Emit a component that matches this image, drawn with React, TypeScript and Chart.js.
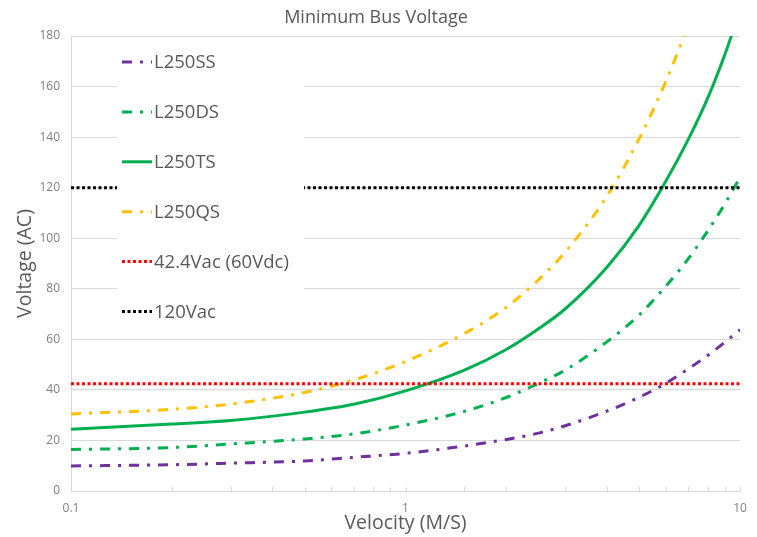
import React, { useEffect, useRef } from 'react';
import { Chart, registerables } from 'chart.js';

Chart.register(...registerables);

// ---- data ----
const velocity = [0.1, 0.2, 0.3, 0.5, 0.7, 1, 1.5, 2, 2.5, 3, 4, 5, 6, 7, 8, 9, 10];
const l250SS = [9.9, 10.4, 11.0, 11.9, 13.3, 14.9, 17.8, 20.4, 22.9, 25.8, 31.6, 37.1, 42.6, 48.3, 53.6, 58.8, 63.8];
const l250DS = [16.4, 17.2, 18.6, 20.6, 22.6, 26.1, 31.5, 37.0, 42.6, 47.8, 59.0, 69.7, 81.0, 91.8, 102.8, 113.5, 124.0];
const l250TS = [24.4, 26.5, 27.9, 31.2, 34.3, 39.6, 47.8, 56.0, 64.2, 72.0, 88.5, 105.2, 122.5, 139.0, 155.3, 172.5, 190.0];
const l250QS = [30.5, 32.3, 34.4, 39.0, 43.9, 51.2, 62.3, 72.7, 83.6, 94.5, 116.6, 139.5, 162.0, 184.0, null, null, null];
const limitVelocity = [0.1, 10];
const limit42 = [42.4, 42.4];
const limit120 = [120, 120];
const seriesNames = ['L250SS', 'L250DS', 'L250TS', 'L250QS', '42.4Vac (60Vdc)', '120Vac'];
const xTickLabels = ['0.1', '1', '10'];
const yMin = 0;
const yMax = 180;
const yStep = 20;

const FONT = "'Open Sans', sans-serif";

function toPoints(xs: number[], ys: (number | null)[]) {
  const out: { x: number; y: number }[] = [];
  xs.forEach((x, i) => {
    const y = ys[i];
    if (y !== null && y !== undefined) out.push({ x, y });
  });
  return out;
}

const insideLegend = {
  id: 'insideLegend',
  afterDatasetsDraw(chart: any) {
    const { ctx, chartArea } = chart;
    ctx.save();
    // minor tick marks on the x axis (pointing into the plot)
    const xs = chart.scales.x;
    ctx.strokeStyle = '#d9d9d9';
    ctx.lineWidth = 1;
    xs.ticks.forEach((t: any) => {
      const px = Math.round(xs.getPixelForValue(t.value)) + 0.5;
      ctx.beginPath();
      ctx.moveTo(px, chartArea.bottom);
      ctx.lineTo(px, chartArea.bottom - 4);
      ctx.stroke();
    });

    // legend box
    const left = chartArea.left + 46;
    const right = chartArea.left + 233;
    const top = chartArea.top + 2;
    const bottom = chartArea.top + 299;
    ctx.fillStyle = '#ffffff';
    ctx.fillRect(left, top, right - left, bottom - top);

    const datasets = chart.data.datasets;
    datasets.forEach((ds: any, i: number) => {
      const y = chartArea.top + 26 + i * 49.9;
      ctx.save();
      ctx.strokeStyle = ds.borderColor;
      ctx.lineWidth = ds.borderWidth;
      ctx.lineCap = 'butt';
      ctx.setLineDash(ds.borderDash || []);
      ctx.beginPath();
      ctx.moveTo(left + 5, y);
      ctx.lineTo(left + 35, y);
      ctx.stroke();
      ctx.restore();
      ctx.fillStyle = '#595959';
      ctx.font = `18.5px ${FONT}`;
      ctx.textAlign = 'left';
      ctx.textBaseline = 'middle';
      ctx.fillText(ds.label, left + 37, y + 1);
    });
    ctx.restore();
  },
};

export default function App() {
  const canvasRef = useRef<HTMLCanvasElement | null>(null);

  useEffect(() => {
    if (!canvasRef.current) return;
    const dashDot = [10, 8, 3, 8];
    const dotted = [3, 2.5];
    const chart = new Chart(canvasRef.current, {
      type: 'line',
      data: {
        datasets: [
          { label: seriesNames[0], data: toPoints(velocity, l250SS), borderColor: '#7030A0', borderWidth: 3, borderDash: dashDot, order: 6 },
          { label: seriesNames[1], data: toPoints(velocity, l250DS), borderColor: '#00B050', borderWidth: 3, borderDash: dashDot, order: 5 },
          { label: seriesNames[2], data: toPoints(velocity, l250TS), borderColor: '#00B050', borderWidth: 3, borderDash: [], order: 4 },
          { label: seriesNames[3], data: toPoints(velocity, l250QS), borderColor: '#FFC000', borderWidth: 3, borderDash: dashDot, order: 3 },
          { label: seriesNames[4], data: toPoints(limitVelocity, limit42), borderColor: '#FF0000', borderWidth: 3, borderDash: dotted, order: 2 },
          { label: seriesNames[5], data: toPoints(limitVelocity, limit120), borderColor: '#000000', borderWidth: 3, borderDash: dotted, order: 1 },
        ].map((d) => ({
          ...d,
          fill: false,
          pointRadius: 0,
          pointHoverRadius: 0,
          borderCapStyle: 'butt',
          cubicInterpolationMode: 'monotone',
        })) as any,
      },
      options: {
        animation: false,
        responsive: false,
        devicePixelRatio: 1,
        layout: { padding: { left: 0, right: 5, top: 0, bottom: 0 } },
        plugins: {
          legend: { display: false },
          tooltip: { enabled: false },
          title: {
            display: true,
            text: 'Minimum Bus Voltage',
            color: '#595959',
            font: { family: FONT, size: 18, weight: 'normal' },
            padding: { top: 7, bottom: 7.4 },
          },
        },
        scales: {
          x: {
            type: 'logarithmic',
            min: 0.1,
            max: 10,
            grid: { display: false, drawTicks: false },
            border: { display: true, color: '#d9d9d9', width: 1 },
            ticks: {
              autoSkip: false,
              maxRotation: 0,
              padding: 10,
              color: '#808080',
              font: { family: FONT, size: 12 },
              callback: (value: any) => {
                const s = String(Number(value));
                return xTickLabels.includes(s) ? s : '';
              },
            },
            title: {
              display: true,
              text: 'Velocity (M/S)',
              color: '#595959',
              font: { family: FONT, size: 19.5 },
              padding: { top: 0, bottom: 1.6 },
            },
            afterFit: (s: any) => {
              s.height = 46;
            },
          },
          y: {
            min: yMin,
            max: yMax,
            ticks: {
              stepSize: yStep,
              padding: 11,
              color: '#808080',
              font: { family: FONT, size: 12 },
            },
            grid: { color: '#d9d9d9', drawTicks: false, lineWidth: 1 },
            border: { display: true, color: '#d9d9d9', width: 1 },
            title: {
              display: true,
              text: 'Voltage (AC)',
              color: '#595959',
              font: { family: FONT, size: 19.5 },
              padding: { top: 13.6, bottom: 0 },
            },
            afterFit: (s: any) => {
              s.width = 71;
            },
          },
          yRightSpacer: {
            position: 'right',
            display: true,
            grid: { display: false, drawTicks: false },
            border: { display: false },
            ticks: { display: false },
            afterFit: (s: any) => {
              s.width = 12;
            },
          },
        },
      } as any,
      plugins: [insideLegend],
    });
    return () => chart.destroy();
  }, []);

  return (
    <div style={{ position: 'fixed', left: 0, top: 0, width: 757, height: 537, background: '#ffffff' }}>
      <canvas ref={canvasRef} width={757} height={537} style={{ width: 757, height: 537, display: 'block' }} />
    </div>
  );
}
